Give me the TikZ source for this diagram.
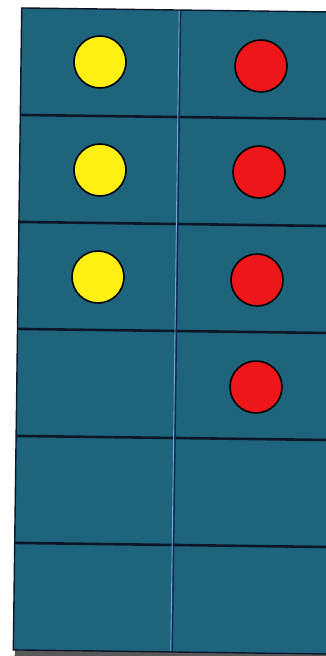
\documentclass[tikz,border=0pt]{standalone}
\definecolor{panel}{RGB}{30,100,124}
\definecolor{gridline}{RGB}{12,22,40}
\definecolor{divider}{RGB}{18,36,90}
\definecolor{glow}{RGB}{110,170,205}
\definecolor{dotyellow}{RGB}{255,240,20}
\definecolor{dotred}{RGB}{238,22,24}
\tikzset{
  hline/.style={draw=gridline, line width=2.6pt},
  edgeline/.style={draw=gridline, line width=1.4pt},
  vdiv/.style={draw=divider, line width=1.3pt},
  vglow/.style={draw=glow, line width=0.9pt},
  dot/.style={circle, minimum size=52pt, inner sep=0pt, draw=black, line width=1.6pt},
  ydot/.style={dot, fill=dotyellow},
  rdot/.style={dot, fill=dotred}
}
\begin{document}
\begin{tikzpicture}[x=1pt,y=-1pt]
\useasboundingbox (0,0) rectangle (326,656);
\clip (0,0) rectangle (326,656);
\fill[white] (0,0) rectangle (326,656);
\begin{scope}[rotate around={-0.75:(176,331)}]
  \fill[black!65] (19,652) rectangle (345,662);
  \fill[panel] (17.5,10) rectangle (345,652);
  \foreach \k in {1,...,5}
    \draw[hline] (17.5,10+107*\k) -- (345,10+107*\k);
  \draw[vglow] (175,10) -- (175,652);
  \draw[vdiv] (176.5,10) -- (176.5,652);
  \draw[edgeline] (345,10) -- (17.5,10) -- (17.5,652) -- (345,652);
\end{scope}
\node[ydot] (y1) at (100,62) {};
\node[ydot] (y2) at (100,170) {};
\node[ydot] (y3) at (98,277) {};
\node[rdot] (r1) at (261,66) {};
\node[rdot] (r2) at (259,172) {};
\node[rdot] (r3) at (257,280) {};
\node[rdot] (r4) at (256,387) {};
\end{tikzpicture}
\end{document}
